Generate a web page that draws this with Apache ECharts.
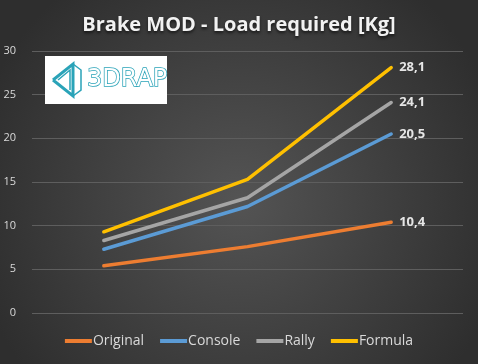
<!DOCTYPE html>
<html><head><meta charset="utf-8">
<script src="https://cdn.jsdelivr.net/npm/echarts@6/dist/echarts.min.js"></script>
<style>html,body{margin:0;padding:0;background:#3a3a3a}#c{width:478px;height:364px}</style>
</head><body><div id="c"></div>
<script>
const categories = ['A', 'B', 'C'];
const seriesNames = ['Original', 'Console', 'Rally', 'Formula'];
const original = [5.4, 7.6, 10.4];
const consoleV = [7.3, 12.2, 20.5];
const rally = [8.3, 13.2, 24.1];
const formula = [9.3, 15.3, 28.1];
const colors = ['#ED7D31', '#5B9BD5', '#A5A5A5', '#FFC000'];
const yTicks = [0, 5, 10, 15, 20, 25, 30];

const chart = echarts.init(document.getElementById('c'));
const data = [original, consoleV, rally, formula];
function mk(i) {
  return {
    name: seriesNames[i], type: 'line', data: data[i], symbol: 'none',
    lineStyle: { width: 3.5, color: colors[i], cap: 'round', join: 'round' },
    itemStyle: { color: colors[i] },
    endLabel: { show: true, formatter: p => String(p.value).replace('.', ','), color: '#e6e6e6',
      fontWeight: 'bold', fontSize: 13, fontFamily: 'Open Sans', distance: 8 },
    emphasis: { disabled: true }, animation: false
  };
}
chart.setOption({
  backgroundColor: { type: 'radial', x: 0.5, y: 0.55, r: 0.75,
    colorStops: [{ offset: 0, color: '#545454' }, { offset: 1, color: '#2e2e2e' }] },
  animation: false,
  title: { text: 'Brake MOD - Load required [Kg]', left: 'center', top: 10,
    textStyle: { color: '#f2f2f2', fontSize: 20, fontWeight: 'bold', fontFamily: 'Open Sans',
      textShadowColor: 'rgba(0,0,0,0.6)', textShadowBlur: 3, textShadowOffsetY: 2 } },
  grid: { left: 32, right: 15, top: 51, bottom: 51 },
  xAxis: { type: 'category', data: categories, axisLine: { show: false }, axisTick: { show: false },
    axisLabel: { show: false } },
  yAxis: { type: 'value', min: yTicks[0], max: yTicks[yTicks.length - 1], interval: 5,
    axisLabel: { color: '#d9d9d9', fontSize: 11, fontFamily: 'Open Sans', margin: 16 },
    splitLine: { lineStyle: { color: '#5e5e5e', width: 1 } } },
  legend: { bottom: 11, left: 'center', itemWidth: 27, itemHeight: 4, itemGap: 16,
    icon: 'rect', textStyle: { color: '#d9d9d9', fontSize: 14, fontFamily: 'Open Sans', padding: [0, 0, 0, -4] },
    data: seriesNames },
  graphic: [
    { type: 'group', left: 45, top: 56, z: 100, children: [
      { type: 'rect', z: 100, shape: { x: 0, y: 0, width: 122, height: 48 }, style: { fill: '#ffffff' } },
      { type: 'polyline', z: 101, shape: { points: [[8,24],[28,8],[28,40],[8,24]] }, style: { stroke: '#2aa3b8', lineWidth: 3, fill: 'none' } },
      { type: 'polyline', z: 101, shape: { points: [[13,24],[25,14],[25,34]] }, style: { stroke: '#2aa3b8', lineWidth: 1.5, fill: 'none' } },
      { type: 'polyline', z: 101, shape: { points: [[28,8],[36,14],[36,34],[28,40]] }, style: { stroke: '#2aa3b8', lineWidth: 1.5, fill: 'none' } },
      { type: 'text', z: 101, style: { x: 42, y: 24, text: '3DRAP', fill: '#ffffff', stroke: '#2aa3b8', lineWidth: 1.5,
        fontSize: 24, fontFamily: 'DejaVu Sans', verticalAlign: 'middle' } }
    ] }
  ],
  series: [0, 1, 2, 3].map(mk)
});
</script></body></html>
